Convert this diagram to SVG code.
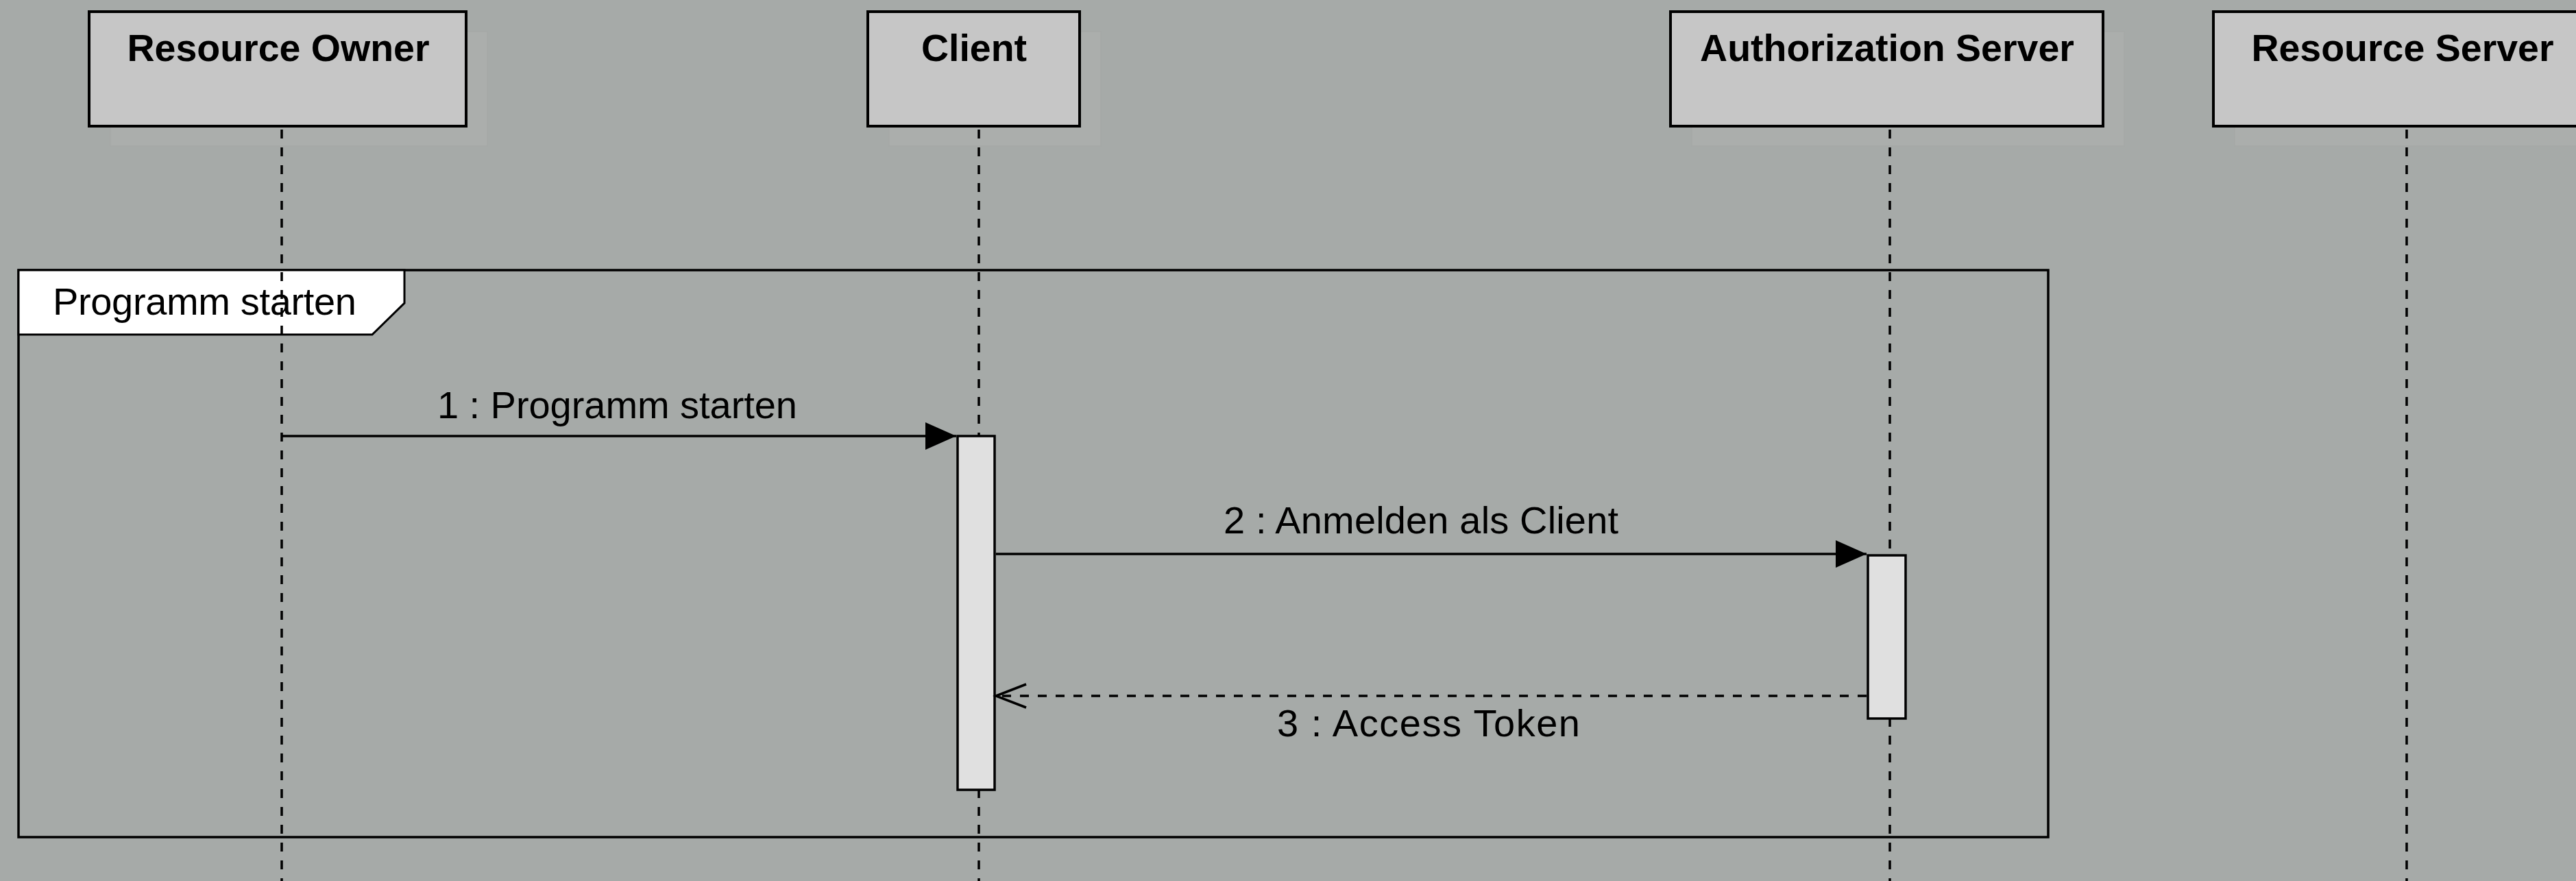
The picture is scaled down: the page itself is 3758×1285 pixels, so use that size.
<svg xmlns="http://www.w3.org/2000/svg" width="3758" height="1285" viewBox="0 0 3758 1285">
  <style>
    .bg { fill: #a6aaa8; }
    .shadow { fill: #abaeac; stroke: #a3a6a4; stroke-width: 1; }
    .head { fill: #c6c6c6; stroke: #000; stroke-width: 4; }
    .head-label { font-family: "Liberation Sans", Arial, sans-serif; font-weight: bold; font-size: 55.5px; fill: #000; text-anchor: middle; }
    .lifeline { stroke: #000; stroke-width: 3.5; stroke-dasharray: 13 13; fill: none; }
    .frame { fill: none; stroke: #000; stroke-width: 3.5; }
    .tab { fill: #fff; stroke: #000; stroke-width: 3; }
    .label { font-family: "Liberation Sans", Arial, sans-serif; font-size: 56px; fill: #000; }
    .activation { fill: #e0e0e0; stroke: #000; stroke-width: 3.5; }
    .msg { stroke: #000; stroke-width: 3.5; fill: none; }
    .reply { stroke: #000; stroke-width: 3.5; fill: none; stroke-dasharray: 13 13; }
  </style>
  <defs>
    <marker id="filled" markerUnits="userSpaceOnUse" markerWidth="46" markerHeight="42" refX="45" refY="20" orient="auto" overflow="visible">
      <path d="M0,0 L45,20 L0,40 Z" fill="#000"/>
    </marker>
    <marker id="open" markerUnits="userSpaceOnUse" markerWidth="46" markerHeight="42" refX="44" refY="20" orient="auto" overflow="visible">
      <path d="M0,3 L44,20 L0,37" fill="none" stroke="#000" stroke-width="3.5"/>
    </marker>
  </defs>

  <rect class="bg" x="0" y="0" width="3758" height="1285"/>

  <!-- combined fragment -->
  <g id="frame-programm-starten">
    <rect class="frame" x="27" y="394" width="2961" height="827"/>
    <polygon class="tab" points="27,394 590,394 590,442 543,488 27,488"/>
    <text class="label" x="77" y="459" textLength="443" lengthAdjust="spacing">Programm starten</text>
  </g>

  <!-- lifelines -->
  <g id="resource-owner">
    <rect class="shadow" x="161" y="46" width="550" height="167"/>
    <rect class="head" x="130" y="17" width="550" height="167"/>
    <text class="head-label" x="406" y="89">Resource Owner</text>
    <line class="lifeline" x1="411" y1="189" x2="411" y2="1285"/>
  </g>

  <g id="client">
    <rect class="shadow" x="1297" y="46" width="309" height="167"/>
    <rect class="head" x="1266" y="17" width="309" height="167"/>
    <text class="head-label" x="1421" y="89">Client</text>
    <line class="lifeline" x1="1428" y1="189" x2="1428" y2="1285"/>
    <rect id="client-activation" class="activation" x="1397" y="636" width="54" height="516"/>
  </g>

  <g id="authorization-server">
    <rect class="shadow" x="2468" y="46" width="631" height="167"/>
    <rect class="head" x="2437" y="17" width="631" height="167"/>
    <text class="head-label" x="2753" y="89">Authorization Server</text>
    <line class="lifeline" x1="2757" y1="189" x2="2757" y2="1285"/>
    <rect id="as-activation" class="activation" x="2725" y="810" width="55" height="238"/>
  </g>

  <g id="resource-server">
    <rect class="shadow" x="3260" y="46" width="550" height="167"/>
    <rect class="head" x="3229" y="17" width="550" height="167"/>
    <text class="head-label" x="3505" y="89">Resource Server</text>
    <line class="lifeline" x1="3511" y1="189" x2="3511" y2="1285"/>
  </g>

  <!-- messages -->
  <g id="connectors">
    <line class="msg" x1="411" y1="636" x2="1395" y2="636" marker-end="url(#filled)"/>
    <text class="label" x="638" y="610" textLength="525" lengthAdjust="spacing">1 : Programm starten</text>

    <line class="msg" x1="1453" y1="808" x2="2723" y2="808" marker-end="url(#filled)"/>
    <text class="label" x="1785" y="778" textLength="576" lengthAdjust="spacing">2 : Anmelden als Client</text>

    <line class="reply" x1="2723" y1="1015" x2="1453" y2="1015" marker-end="url(#open)"/>
    <text class="label" x="1863" y="1074" textLength="442" lengthAdjust="spacing">3 : Access Token</text>
  </g>
</svg>
